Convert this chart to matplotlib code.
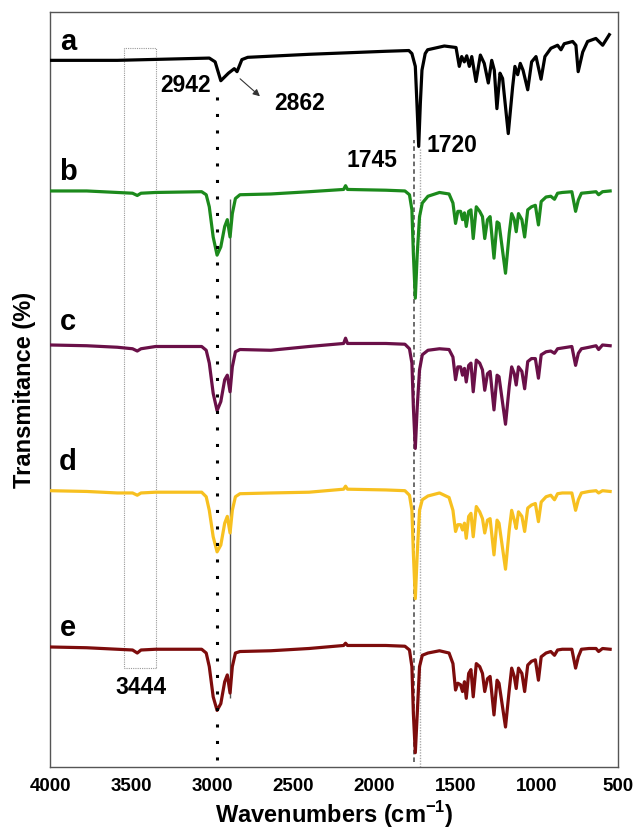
import numpy as np
import matplotlib
matplotlib.use("Agg")
import matplotlib.pyplot as plt
from matplotlib.patches import Rectangle

########## data ##########

# spectrum a (own grid)
WN_A = [4000, 3586, 3019, 2983, 2948, 2901, 2865, 2848, 2818, 2782,
        2404, 1931, 1789, 1770, 1749, 1739, 1728, 1718, 1708, 1688,
        1673, 1570, 1498, 1478, 1463, 1447, 1432, 1416, 1401, 1375,
        1348, 1324, 1299, 1278, 1262, 1246, 1227, 1211, 1176, 1149,
        1135, 1118, 1102, 1085, 1056, 1032, 1005, 974, 950, 913,
        872, 851, 831, 779, 759, 745, 717, 687, 636, 594, 553]
T_A = [93.6, 93.6, 93.9, 93.4, 90.9, 91.9, 92.5, 92.1, 93.7, 94.0,
       94.4, 94.8, 94.9, 94.5, 92.8, 87.9, 82.2, 87.9, 92.3, 94.5,
       95.0, 95.5, 95.3, 92.8, 94.1, 93.4, 94.2, 92.8, 94.1, 90.8,
       94.3, 93.2, 90.6, 93.6, 92.3, 87.2, 91.9, 91.2, 83.9, 90.1,
       92.8, 91.7, 93.2, 92.3, 89.7, 93.4, 94.1, 91.1, 94.1, 95.2,
       95.6, 95.0, 95.8, 96.1, 95.6, 92.1, 94.7, 96.1, 96.5, 95.6, 97.0]

# spectra b-e share the same wavenumbers
WN_BE = [4000, 3775, 3586, 3492, 3463, 3440, 3350, 3066, 3038, 3019,
         2995, 2971, 2948, 2924, 2908, 2891, 2877, 2858, 2830, 2640,
         2404, 2191, 2179, 2167, 1931, 1813, 1785, 1770, 1761, 1749,
         1737, 1723, 1706, 1671, 1600, 1541, 1517, 1501, 1487, 1470,
         1458, 1446, 1435, 1420, 1406, 1392, 1373, 1352, 1335, 1321,
         1304, 1288, 1264, 1245, 1233, 1193, 1170, 1155, 1139, 1127,
         1113, 1092, 1075, 1056, 1033, 1009, 990, 973, 943, 914,
         891, 872, 843, 784, 761, 744, 725, 678, 635, 619, 595, 548]

T_B = [76.3, 76.3, 76.1, 76.0, 75.7, 76.0, 76.1, 76.2, 75.8, 74.2,
       70.2, 67.8, 68.9, 71.6, 72.5, 70.2, 73.3, 75.3, 75.8, 75.9,
       76.2, 76.5, 77.0, 76.5, 76.4, 76.3, 75.8, 73.8, 68.0, 62.1,
       68.0, 72.9, 74.7, 75.6, 76.1, 75.9, 74.7, 72.0, 73.6, 73.6,
       72.5, 73.4, 71.6, 73.6, 73.8, 70.0, 74.2, 73.6, 72.9, 70.0,
       72.5, 72.9, 67.4, 72.2, 72.0, 65.4, 70.7, 73.3, 72.5, 70.9,
       73.3, 72.5, 70.2, 73.8, 74.2, 74.4, 71.8, 74.9, 75.5, 75.6,
       75.2, 76.0, 76.1, 76.2, 73.6, 75.1, 76.0, 76.1, 76.2, 75.8,
       76.2, 76.3]

T_C = [55.9, 55.8, 55.6, 55.4, 55.1, 55.4, 55.7, 55.7, 55.2, 53.5,
       49.5, 47.2, 48.4, 51.3, 51.9, 49.7, 53.0, 55.0, 55.3, 55.2,
       55.7, 56.1, 56.8, 56.1, 56.1, 56.0, 55.4, 53.5, 47.7, 42.2,
       47.7, 52.6, 54.6, 55.2, 55.4, 55.3, 54.3, 51.3, 53.0, 53.0,
       51.9, 52.8, 51.0, 53.2, 53.5, 49.7, 53.9, 53.5, 52.6, 49.9,
       52.1, 52.4, 47.3, 51.9, 51.7, 45.4, 50.4, 53.0, 52.1, 50.6,
       53.0, 52.4, 50.1, 53.7, 54.1, 54.1, 51.5, 54.6, 55.0, 55.1,
       54.8, 55.4, 55.5, 55.7, 53.2, 54.8, 55.4, 55.6, 55.8, 55.3,
       55.9, 55.8]

T_D = [36.6, 36.5, 36.3, 36.3, 36.0, 36.3, 36.4, 36.4, 35.8, 34.0,
       30.5, 28.5, 29.4, 32.3, 33.2, 31.0, 34.0, 35.8, 36.2, 36.3,
       36.4, 36.8, 37.2, 36.8, 36.7, 36.6, 36.0, 34.0, 28.3, 22.3,
       28.3, 34.0, 35.4, 35.9, 36.3, 35.7, 34.0, 31.2, 32.1, 32.1,
       31.4, 32.3, 30.3, 33.2, 33.6, 30.5, 34.5, 33.8, 32.9, 31.0,
       32.7, 32.9, 28.1, 32.7, 32.3, 26.2, 31.4, 34.0, 32.7, 31.6,
       33.8, 33.2, 31.2, 34.3, 34.7, 34.9, 32.5, 35.1, 35.8, 36.0,
       35.4, 36.2, 36.3, 36.3, 34.0, 35.4, 36.3, 36.5, 36.6, 36.3,
       36.6, 36.5]

T_E = [15.9, 15.8, 15.6, 15.5, 15.1, 15.5, 15.6, 15.6, 15.1, 13.3,
       9.3, 7.5, 8.4, 11.3, 12.2, 9.8, 13.3, 15.1, 15.3, 15.4,
       15.7, 16.1, 16.4, 16.1, 16.1, 16.0, 15.5, 13.3, 7.1, 1.9,
       7.1, 13.3, 14.8, 15.1, 15.4, 15.1, 13.7, 10.2, 11.1, 10.9,
       10.0, 11.3, 9.1, 12.4, 12.9, 9.3, 13.7, 13.3, 12.4, 10.0,
       11.7, 12.0, 6.9, 11.5, 11.1, 5.3, 10.2, 13.1, 12.0, 10.4,
       13.1, 12.4, 10.0, 13.5, 14.0, 14.2, 11.5, 14.6, 15.1, 15.3,
       14.8, 15.5, 15.6, 15.6, 13.1, 14.6, 15.6, 15.7, 15.7, 15.3,
       15.7, 15.6]

LABELS = ["a", "b", "c", "d", "e"]
LABEL_Y = [96.0, 78.8, 58.9, 40.4, 18.4]
COLORS = ["#000000", "#1c8a1c", "#6a1048", "#f7c020", "#7d0c0c"]

XTICKS = [4000, 3500, 3000, 2500, 2000, 1500, 1000, 500]

# peak guide lines: (wavenumber, ymin, ymax)
LINE_CH = (2972, 0.9, 89.7)
LINE_CH2 = (2893, 9.1, 75.2)
LINE_CO = (1757, 0.7, 83.0)
LINE_CO_A = (1718, 0.0, 82.0)
BOX_3444 = (3345, 3544, 13.1, 95.2)

########## figure ##########

plt.rcParams['font.family'] = ['Liberation Sans', 'DejaVu Sans']
plt.rcParams['mathtext.fontset'] = 'custom'
plt.rcParams['mathtext.rm'] = 'Liberation Sans'
plt.rcParams['mathtext.bf'] = 'Liberation Sans:bold'

fig = plt.figure(figsize=(6.43, 8.35), dpi=100)
ax = fig.add_axes([0.078, 0.0814, 0.883, 0.9042])

series = [(WN_A, T_A), (WN_BE, T_B), (WN_BE, T_C), (WN_BE, T_D), (WN_BE, T_E)]
for (wn, t), col in zip(series, COLORS):
    ax.plot(wn, t, color=col, lw=2.3, solid_joinstyle='round', zorder=3)

for lab, ly in zip(LABELS, LABEL_Y):
    ax.text(3889, ly, lab, fontsize=21, fontweight='bold', ha='center', va='center')

# guide lines
ax.vlines(LINE_CH[0], LINE_CH[1], LINE_CH[2], colors='black', lw=2.2,
          linestyles=(0, (1, 4.4)), zorder=4)
ax.vlines(LINE_CH2[0], LINE_CH2[1], LINE_CH2[2], colors='#555555', lw=1.0, zorder=2)
ax.vlines(LINE_CO[0], LINE_CO[1], LINE_CO[2], colors='#444444', lw=1.1,
          linestyles=(0, (3, 2)), zorder=2)
ax.vlines(LINE_CO_A[0], LINE_CO_A[1], LINE_CO_A[2], colors='#aaaaaa', lw=1.0,
          linestyles=(0, (1, 1)), zorder=2)
x0, x1, y0, y1 = BOX_3444
ax.add_patch(Rectangle((x0, y0), x1 - x0, y1 - y0, fill=False, ec='#999999',
                       lw=0.8, ls=(0, (1, 1)), zorder=2))

# peak annotations
ANN_SIZE = 16.5
ax.text(3168, 90.3, "2942", fontsize=ANN_SIZE, fontweight='bold', ha='center', va='center')
ax.text(2460, 87.9, "2862", fontsize=ANN_SIZE, fontweight='bold', ha='center', va='center')
ax.annotate("", xy=(2694, 88.6), xytext=(2842, 91.4),
            arrowprops=dict(arrowstyle='-|>', color='#333333', lw=0.8,
                            mutation_scale=10))
ax.text(1523, 82.3, "1720", fontsize=ANN_SIZE, fontweight='bold', ha='center', va='center')
ax.text(2016, 80.3, "1745", fontsize=ANN_SIZE, fontweight='bold', ha='center', va='center')
ax.text(3439, 10.5, "3444", fontsize=ANN_SIZE, fontweight='bold', ha='center', va='center')

ax.set_xlim(4000, 500)
ax.set_ylim(0, 100)
ax.set_xticks(XTICKS)
ax.set_xticklabels([str(v) for v in XTICKS], fontsize=13.5, fontweight='bold')
ax.tick_params(axis='x', length=0, pad=8)
ax.set_yticks([])
for s in ax.spines.values():
    s.set_color('#555555')
    s.set_linewidth(1.0)

ax.set_xlabel(r"Wavenumbers (cm$^{\mathbf{-1}}$)", fontsize=17, fontweight='bold', labelpad=3)
ax.set_ylabel("Transmitance (%)", fontsize=17, fontweight='bold', labelpad=10)

fig.savefig("out.png", dpi=100)
